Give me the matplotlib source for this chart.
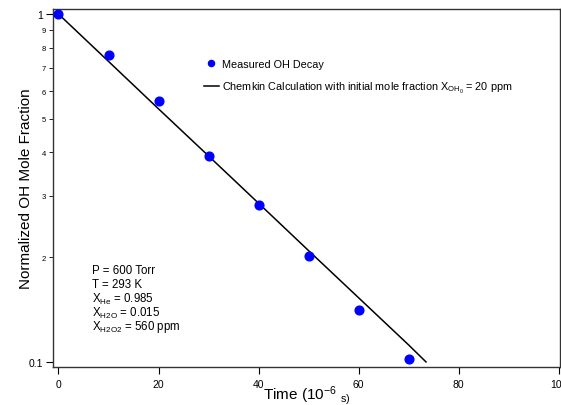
import matplotlib
matplotlib.use("Agg")
import matplotlib.pyplot as plt
from matplotlib.ticker import FixedLocator, FixedFormatter

plt.rcParams['font.family'] = ['Liberation Sans', 'DejaVu Sans']
plt.rcParams['mathtext.fontset'] = 'custom'
plt.rcParams['mathtext.rm'] = 'Liberation Sans'
plt.rcParams['mathtext.it'] = 'Liberation Sans:italic'
plt.rcParams['mathtext.bf'] = 'Liberation Sans:bold'

# measured OH decay
t_meas = [0, 10, 20, 30, 40, 50, 60, 70]
oh_meas = [1.0, 0.762, 0.561, 0.390, 0.283, 0.202, 0.141, 0.102]

# chemkin calculation
t_calc = [0, 10, 20, 30, 40, 50, 60, 70, 73.5]
oh_calc = [1.0, 0.731, 0.534, 0.391, 0.286, 0.209, 0.153, 0.112, 0.1]

x_ticks = [0, 20, 40, 60, 80, 100]
y_major = [0.1, 1.0]
y_minor = [0.2, 0.3, 0.4, 0.5, 0.6, 0.7, 0.8, 0.9]
y_minor_labels = ['2', '3', '4', '5', '6', '7', '8', '9']

info_lines = [
    'P = 600 Torr',
    'T = 293 K',
    r'X$_{\mathrm{He}}$ = 0.985',
    r'X$_{\mathrm{H2O}}$ = 0.015',
    r'X$_{\mathrm{H2O2}}$ = 560 ppm',
]

fig = plt.figure(figsize=(5.61, 4.06), dpi=100)
ax = fig.add_axes([53 / 561, 38 / 406, 507 / 561, 358 / 406])

ax.plot(t_calc, oh_calc, color='black', lw=1.1, zorder=2,
        label=r'Chemkin Calculation with initial mole fraction X$_{\mathrm{OH_0}}$ = 20 ppm')
ax.plot(t_meas, oh_meas, 'o', color='#0000ff', ms=6.3, zorder=3,
        label='Measured OH Decay', clip_on=False)

ax.set_yscale('log')
ax.set_xlim(-1.1, 100.3)
ax.set_ylim(0.0967, 1.034)

ax.yaxis.set_major_locator(FixedLocator(y_major))
ax.yaxis.set_major_formatter(FixedFormatter(['0.1', '1']))
ax.yaxis.set_minor_locator(FixedLocator(y_minor))
ax.yaxis.set_minor_formatter(FixedFormatter(y_minor_labels))
ax.tick_params(axis='y', which='major', labelsize=7.5, length=5, width=0.8, pad=2)
ax.tick_params(axis='y', which='minor', labelsize=5.5, length=3, width=0.6, pad=2)

ax.set_xticks(x_ticks)
ax.tick_params(axis='x', labelsize=7.5, length=5, width=0.8)

for s in ax.spines.values():
    s.set_linewidth(1.0)
    s.set_color('#333333')

ax.set_ylabel('Normalized OH Mole Fraction', fontsize=11)
ax.yaxis.set_label_coords(-0.04, 0.5)
ax.set_xlabel(r'Time (10$^{-6}\ {}_{\mathrm{s)}}$', fontsize=11, labelpad=-4)

h, l = ax.get_legend_handles_labels()
ax.legend([h[1], h[0]], [l[1], l[0]], loc='upper left',
          bbox_to_anchor=(194 / 561, 1 - 50 / 406), bbox_transform=fig.transFigure,
          frameon=False, fontsize=7.8, handlelength=1.4, handletextpad=0.3,
          labelspacing=1.0, markerscale=0.7)

for i, line in enumerate(info_lines):
    fig.text(92 / 561, 1 - (271 + 14 * i) / 406, line, fontsize=8.3,
             va='center', ha='left')

fig.savefig('out.png', dpi=100)
